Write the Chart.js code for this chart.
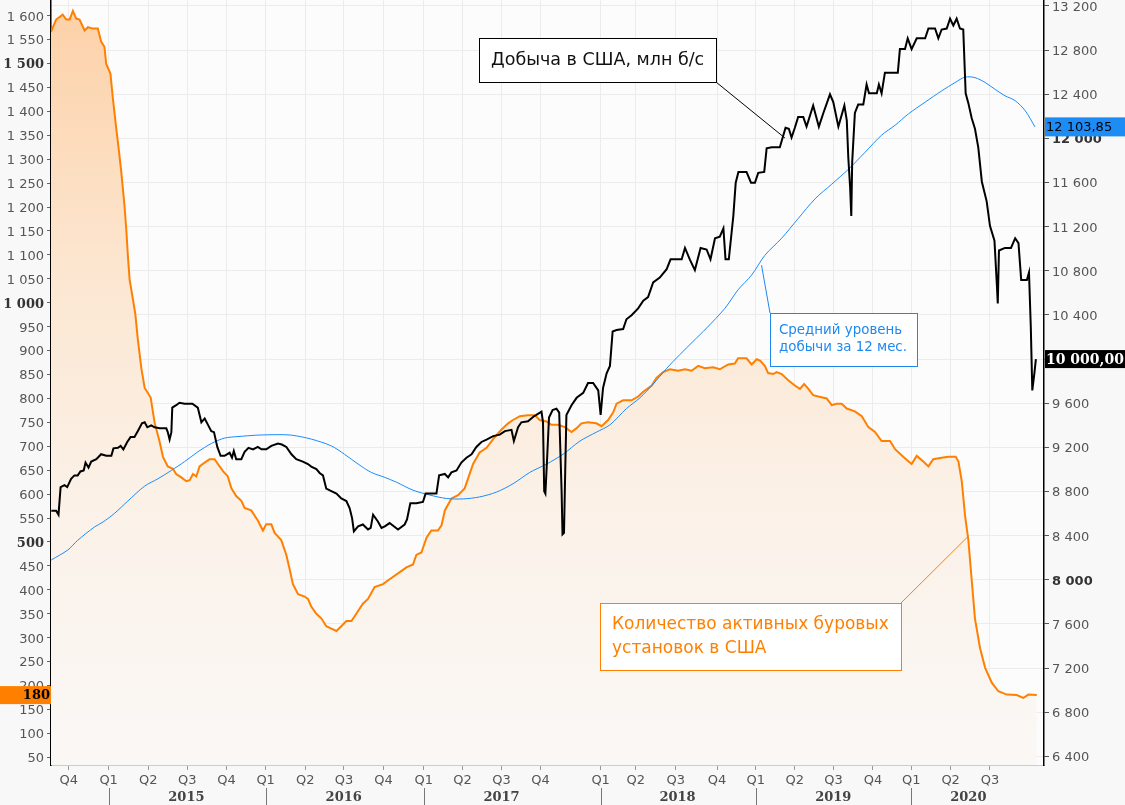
<!DOCTYPE html>
<html>
<head>
<meta charset="utf-8">
<script src="https://cdn.jsdelivr.net/npm/chart.js@4.4.0/dist/chart.umd.min.js"></script>
<style>
html,body{margin:0;padding:0;background:#f8f8f8;}
#wrap{width:1125px;height:805px;position:relative;}
</style>
</head>
<body>
<div id="wrap"><canvas id="c" width="1125" height="805"></canvas></div>
<script>
// ---- X axis (index in weeks from chart start) ----
const quarterWeek = [5.9, 19.2, 32.4, 45.4, 58.5, 71.5, 84.7, 97.6, 110.8, 124.2, 137.1, 150.1, 163.1, 183.1, 194.8, 208.1, 221.9, 234.8, 247.8, 260.7, 273.8, 286.6, 299.7, 312.8];
const quarterLabels = ['Q4','Q1','Q2','Q3','Q4','Q1','Q2','Q3','Q4','Q1','Q2','Q3','Q4','Q1','Q2','Q3','Q4','Q1','Q2','Q3','Q4','Q1','Q2','Q3'];
const yearStartWeek = [19.2, 71.5, 124.2, 183.1, 234.8, 286.6];
const yearLabelWeek = [45.1, 97.5, 150.1, 208.7, 260.6, 305.6];
const yearLabels = ['2015','2016','2017','2018','2019','2020'];

// ---- Y tick values ----
const leftTickValues = [50,100,150,200,250,300,350,400,450,500,550,600,650,700,750,800,850,900,950,1000,1050,1100,1150,1200,1250,1300,1350,1400,1450,1500,1550,1600];
const leftBold = [500,1000,1500];
const rightTickValues = [6400,6800,7200,7600,8000,8400,8800,9200,9600,10000,10400,10800,11200,11600,12000,12400,12800,13200];
const rightBold = [8000,12000];

// ---- Rig count (left axis) ----
const rigWeek = [0,1.7,3.9,5.1,6.2,7.3,8.4,9.5,11.2,12.3,13.9,15.6,16.7,17.8,18.4,19.8,20.6,21.7,22.5,23.4,24.5,25.1,25.6,26.2,27.3,28.1,28.9,30.1,31.2,33.2,34.5,36.2,37.3,38.9,40.6,41.7,43.4,45.1,46.2,47.3,48.4,49.5,51.2,52.8,54.5,55.6,57.3,58.9,60.1,61.7,63.4,64.5,66.7,68.9,70.6,71.7,73.4,74.5,76.7,78.4,79.5,80.6,82.3,84.5,85.6,86.7,88.4,90.1,91.7,93.4,95.1,96.7,98.4,100.1,101.7,103.9,105.6,107.8,110.6,112.8,116.2,118.4,120.6,121.7,123.4,125.1,126.7,128.9,130.1,131.2,133.4,135.6,137.8,138.9,140.6,142.8,145.1,147.8,150.1,152.3,153.9,156.2,158.9,161.2,162.8,165.1,166.7,168.9,171.2,173.4,175.1,176.7,178.9,181.7,183.4,185.6,187.3,188.4,190.6,193.4,195.6,197.3,200.1,201.7,203.9,206.2,208.9,211.2,213.4,215.6,217.8,220.6,222.8,225.6,227.8,228.9,231.7,233.4,235.1,236.2,237.8,238.9,240.6,241.7,243.4,245.6,247.8,249.5,250.9,252.3,253.9,255.6,258.4,260.1,261.7,263.4,265.1,267.8,270.1,272.3,274.5,276.7,279.5,281.2,283.9,286.7,288.4,290.6,292.3,293.9,296.7,298.9,301.4,302.3,303.4,304.5,305.6,306.7,307.8,309.5,311.2,313.4,315.6,318.4,321.7,323.9,325.6,328.4];
const rigCount = [1566,1592,1602,1592,1592,1610,1594,1592,1569,1576,1573,1573,1546,1535,1499,1479,1428,1366,1325,1274,1202,1151,1099,1048,1007,976,925,863,822,802,750,709,678,658,653,642,635,627,629,642,637,658,666,673,673,663,648,637,612,596,586,571,566,545,524,537,537,519,504,473,443,412,391,386,381,365,350,340,324,319,314,324,335,335,350,371,381,406,412,422,437,447,453,473,478,509,524,524,535,566,591,598,612,632,663,687,697,719,735,748,755,763,765,765,755,752,745,745,740,730,738,748,750,748,742,755,771,789,796,796,804,814,827,843,855,861,858,861,858,868,863,865,861,871,873,884,884,871,882,879,868,853,851,855,851,838,827,820,830,820,807,804,800,786,789,789,779,773,763,740,730,711,711,694,678,663,680,668,658,673,676,678,678,668,627,555,504,422,340,278,237,206,188,181,180,174,181,180];

// ---- US production, kb/d (right axis) ----
const prodWeek = [0.1,1.7,2.5,3.2,4.5,5.4,6.7,7.8,8.9,9.8,10.9,11.5,12.5,13.4,15.1,16.7,18.4,20.1,20.8,22.3,23.2,24.1,25.4,26.5,27.8,28.9,30.3,31.2,32.1,33.4,34.5,36.2,38.4,38.9,39.5,40.1,40.4,41.7,42.8,44.5,47.1,48.9,50.1,51.2,52.3,53.4,54.3,55.4,56.5,57.8,59.5,60.3,60.9,61.7,63.4,64.5,65.8,67.3,68.9,70.1,71.7,73.4,75.6,76.9,78.4,80.1,81.7,83.9,85.6,86.7,88.4,89.5,90.6,91.7,93.4,95.1,96.7,98.4,99.5,100.3,100.9,102.3,103.9,105.6,106.5,107.3,108.9,110.1,111.2,112.8,115.6,117.8,118.6,119.7,121.7,123.9,124.8,128.4,129.3,131.2,132.3,133.4,135.1,136.7,138.4,140.1,141.7,143.4,145.1,147.3,149.5,151.2,153.4,154.2,155.6,156.7,158.9,160.8,161.7,163.4,163.9,164.3,164.7,165.3,165.9,167.1,168.4,169.3,170.1,170.4,170.9,171.3,171.7,173.4,175.1,177.3,178.9,180.6,182.3,183.1,183.9,185.1,186.2,187.1,188.4,190.6,191.7,193.4,195.6,197.3,198.9,200.6,202.8,205.1,206.4,210.1,211.2,212.8,214.5,216.4,218.4,219.7,221.2,222.8,224,224.7,225.8,227.3,228.1,229,231.7,233.2,234.5,235.6,237.6,238.4,240.1,242.8,244.7,245.8,246.7,247.8,248.9,250.6,251.7,253.9,255.8,257.3,259.5,260.6,262.3,264.3,265.1,265.6,266.2,266.6,266.9,267.8,268.9,270.6,271.7,272.5,275.1,275.8,276.7,277.8,282.1,282.8,284.5,285.4,286.7,288.4,291.2,292.3,294.5,295.6,296.7,298.4,299.5,300.6,301.7,302.8,303.9,304.7,305.6,306.7,307.8,308.9,310.1,311.7,312.8,314.3,315.1,315.4,315.8,317.8,319.8,321.2,322.3,323.2,325.1,325.8,326.4,326.9,327.6,328.1];
const production = [8626,8626,8590,8840,8857,8840,8915,8946,8946,8982,8991,9062,9017,9071,9093,9138,9124,9124,9191,9196,9213,9182,9249,9293,9293,9347,9418,9427,9382,9400,9382,9373,9373,9338,9271,9338,9560,9582,9604,9596,9596,9560,9427,9462,9404,9347,9338,9204,9124,9124,9151,9106,9168,9093,9093,9159,9195,9182,9204,9182,9182,9213,9235,9226,9204,9137,9093,9071,9049,9026,9004,8968,8946,8826,8803,8781,8737,8714,8648,8559,8439,8484,8501,8456,8470,8590,8528,8470,8484,8514,8456,8501,8546,8693,8693,8705,8781,8781,8946,8959,8928,8973,8991,9062,9106,9138,9204,9249,9271,9302,9315,9347,9359,9257,9382,9427,9436,9480,9494,9524,9427,8803,8781,9115,9471,9538,9551,9515,8803,8412,8425,8982,9494,9582,9649,9694,9783,9783,9716,9494,9738,9871,9938,10250,10263,10272,10361,10397,10459,10530,10561,10695,10739,10815,10904,10904,11007,10904,10806,11007,10993,10904,11095,11109,11184,10904,10904,11296,11598,11696,11696,11598,11598,11687,11696,11910,11919,11919,12096,12087,12008,12096,12194,12194,12106,12297,12106,12230,12399,12328,12106,12297,12164,11829,11563,11296,11785,12230,12306,12306,12488,12408,12408,12488,12408,12595,12595,12809,12809,12906,12809,12906,12906,12995,12995,12906,12986,12995,13084,13022,13084,12995,12986,12408,12319,12185,12087,11919,11607,11429,11207,11073,10672,10504,10984,11007,11007,11095,11051,10717,10717,10784,10294,9716,9872,10000];

// ---- 12-month average production (right axis) ----
const avgWeek = [0.1,5.6,8.9,14.5,17.3,21.2,25.6,31.2,35.6,40.1,44.5,48.9,53.4,57.8,62.3,68.9,75.6,80.1,86.7,93.4,97.8,102.3,106.7,111.2,115.1,120.6,126.2,131.7,137.3,142.8,148.4,153.9,159.5,165.1,170.6,176.2,181.7,186.2,191.7,196.2,200.6,205.1,209.5,213.9,218.4,224.5,228.9,233.4,237.8,243.4,248.9,254.5,260.1,265.6,271.2,276.7,281.2,285.6,291.2,296.7,301.2,304.5,307.8,311.2,314.5,317.8,321.2,324.5,327.8];
const avg12m = [8180,8270,8358,8479,8523,8603,8714,8849,8915,8991,9071,9159,9235,9284,9298,9311,9315,9311,9275,9213,9137,9049,8973,8928,8884,8812,8768,8737,8733,8751,8795,8870,8973,9049,9138,9257,9338,9404,9551,9649,9773,9916,10041,10160,10281,10460,10628,10761,10940,11095,11273,11451,11585,11719,11874,12029,12119,12221,12328,12430,12506,12555,12550,12506,12444,12386,12341,12252,12103.85];

const toXY = (xs, ys) => xs.map((x, i) => ({x: x, y: ys[i]}));
const fmt = v => v >= 1000 ? Math.floor(v / 1000) + ' ' + String(Math.round(v % 1000)).padStart(3, '0') : String(v);

const SANS = '"DejaVu Sans", Verdana, sans-serif';
const SERIF = '"DejaVu Serif", Georgia, serif';

const bgPlugin = {
  id: 'bg',
  beforeDraw(chart) {
    const {ctx, chartArea: a} = chart;
    ctx.save();
    ctx.fillStyle = '#f8f8f8';
    ctx.fillRect(0, 0, chart.width, chart.height);
    ctx.fillStyle = '#fcfcfc';
    ctx.fillRect(a.left, a.top, a.right - a.left, a.bottom - a.top);
    ctx.restore();
  }
};

const annotations = [
  {box: [479, 38, 237, 44], color: '#000000', text: '#111111', font: '17.5px ' + SANS,
   lines: ['Добыча в США, млн б/с'], tx: 491, ty: [60], from: [716, 82], to: [244.5, 12003], axis: 'yR', lw: 1},
  {box: [770, 313, 147, 53], color: '#1e88f0', text: '#1e88f0', font: '13.4px ' + SANS,
   lines: ['Средний уровень', 'добычи за 12 мес.'], tx: 779, ty: [331, 348], from: [770, 313], to: [236.7, 10851], axis: 'yR', lw: 1},
  {box: [600, 603, 301, 67], color: '#ff8000', text: '#ff8000', font: '17px ' + SANS,
   lines: ['Количество активных буровых', 'установок в США'], tx: 612, ty: [625, 649], from: [901, 603], to: [305.1, 509], axis: 'yL', lw: 1}
];

const annoPlugin = {
  id: 'anno',
  afterDatasetsDraw(chart) {
    const ctx = chart.ctx, xs = chart.scales.x;
    ctx.save();
    annotations.forEach(a => {
      const ys = chart.scales[a.axis];
      ctx.strokeStyle = a.color; ctx.lineWidth = a.lw;
      ctx.beginPath();
      ctx.moveTo(a.from[0], a.from[1]);
      ctx.lineTo(xs.getPixelForValue(a.to[0]), ys.getPixelForValue(a.to[1]));
      ctx.stroke();
      const [bx, by, bw, bh] = a.box;
      ctx.fillStyle = '#ffffff';
      ctx.fillRect(bx, by, bw, bh);
      ctx.strokeRect(bx + 0.5, by + 0.5, bw, bh);
      ctx.fillStyle = a.text; ctx.font = a.font;
      ctx.textAlign = 'left'; ctx.textBaseline = 'middle';
      a.lines.forEach((t, i) => ctx.fillText(t, a.tx, a.ty[i]));
    });
    ctx.restore();
  },
  afterDraw(chart) {
    const ctx = chart.ctx, xs = chart.scales.x, a = chart.chartArea;
    ctx.save();
    // year separators and labels
    ctx.strokeStyle = '#777'; ctx.lineWidth = 1;
    yearStartWeek.forEach(w => {
      const px = Math.round(xs.getPixelForValue(w)) + 0.5;
      ctx.beginPath(); ctx.moveTo(px, a.bottom + 23); ctx.lineTo(px, chart.height); ctx.stroke();
    });
    ctx.font = 'bold 13px ' + SERIF; ctx.fillStyle = '#444';
    ctx.textAlign = 'center'; ctx.textBaseline = 'middle';
    yearLabelWeek.forEach((w, i) => ctx.fillText(yearLabels[i], xs.getPixelForValue(w), a.bottom + 33));
    // last value badges
    const yL = chart.scales.yL, yR = chart.scales.yR;
    const rigLast = rigCount[rigCount.length - 1];
    let y = yL.getPixelForValue(rigLast);
    ctx.fillStyle = '#ff7f00'; ctx.fillRect(0, y - 9, a.left, 18);
    ctx.fillStyle = '#000'; ctx.font = 'bold 13px ' + SERIF; ctx.textAlign = 'right';
    ctx.fillText(String(rigLast), a.left - 1, y + 1);
    const avgLast = avg12m[avg12m.length - 1];
    y = yR.getPixelForValue(avgLast);
    ctx.fillStyle = '#1e8cf5'; ctx.fillRect(a.right + 1, y - 9.5, chart.width - a.right - 1, 19);
    ctx.fillStyle = '#000'; ctx.font = '13px ' + SANS; ctx.textAlign = 'left';
    ctx.fillText(avgLast.toLocaleString('ru-RU', {minimumFractionDigits: 2}).replace(/\s/g, ' '), a.right + 2, y + 1);
    const prodLast = production[production.length - 1];
    y = yR.getPixelForValue(prodLast);
    ctx.fillStyle = '#000'; ctx.fillRect(a.right + 1, y - 9, chart.width - a.right - 1, 18);
    ctx.fillStyle = '#fff'; ctx.font = 'bold 14px ' + SERIF;
    ctx.fillText(prodLast.toLocaleString('ru-RU', {minimumFractionDigits: 2}).replace(/\s/g, ' '), a.right + 2, y + 1);
    ctx.restore();
  }
};

const rigGradient = (context) => {
  const {ctx, chartArea} = context.chart;
  if (!chartArea) return 'rgba(253,210,168,0.5)';
  const g = ctx.createLinearGradient(0, chartArea.top, 0, chartArea.bottom);
  g.addColorStop(0, 'rgb(253,208,166)');
  g.addColorStop(0.35, 'rgb(252,230,208)');
  g.addColorStop(0.65, 'rgb(251,241,231)');
  g.addColorStop(1, 'rgb(250,248,246)');
  return g;
};

new Chart(document.getElementById('c'), {
  type: 'line',
  data: {
    datasets: [
      {label: 'Добыча в США', data: toXY(prodWeek, production), yAxisID: 'yR',
       borderColor: '#000000', borderWidth: 2, pointRadius: 0, tension: 0, fill: false, order: 1},
      {label: 'Средний уровень добычи за 12 мес.', data: toXY(avgWeek, avg12m), yAxisID: 'yR',
       borderColor: '#1a8cff', borderWidth: 1, pointRadius: 0, tension: 0.3, fill: false, order: 2},
      {label: 'Количество активных буровых установок', data: toXY(rigWeek, rigCount), yAxisID: 'yL',
       borderColor: '#ff8000', borderWidth: 2, pointRadius: 0, tension: 0, fill: 'start',
       backgroundColor: rigGradient, order: 3}
    ]
  },
  options: {
    responsive: false,
    devicePixelRatio: 1,
    animation: false,
    layout: {padding: 0},
    plugins: {legend: {display: false}, tooltip: {enabled: false}},
    scales: {
      x: {
        type: 'linear', min: 0, max: 330.8,
        afterBuildTicks: s => { s.ticks = quarterWeek.map(v => ({value: v})); },
        afterFit: s => { s.height = 40; s.paddingLeft = 0; s.paddingRight = 0; },
        ticks: {autoSkip: false, maxRotation: 0, padding: 3, color: '#555',
                font: {family: SANS, size: 13},
                callback: (v, i) => quarterLabels[i]},
        grid: {color: '#ececec', tickColor: '#999', tickLength: 5, lineWidth: 1},
        border: {color: '#cccccc', width: 1}
      },
      yL: {
        type: 'linear', position: 'left', min: 33.9, max: 1632.8,
        afterBuildTicks: s => { s.ticks = leftTickValues.map(v => ({value: v})); },
        afterFit: s => { s.width = 51; s.paddingTop = 0; s.paddingBottom = 0; },
        ticks: {padding: 3, labelOffset: 1.5, callback: v => fmt(v),
                color: c => leftBold.includes(c.tick && c.tick.value) ? '#333' : '#555',
                font: c => leftBold.includes(c.tick && c.tick.value) ? {family: SERIF, size: 13, weight: 'bold'} : {family: SANS, size: 13}},
        grid: {drawOnChartArea: false, tickColor: '#666', tickLength: 4},
        border: {color: '#000', width: 1.5}
      },
      yR: {
        type: 'linear', position: 'right', min: 6322, max: 13253.5,
        afterBuildTicks: s => { s.ticks = rightTickValues.map(v => ({value: v})); },
        afterFit: s => { s.width = 81; s.paddingTop = 0; s.paddingBottom = 0; },
        ticks: {padding: 3, labelOffset: 1.5, callback: v => fmt(v),
                color: c => rightBold.includes(c.tick && c.tick.value) ? '#333' : '#555',
                font: c => rightBold.includes(c.tick && c.tick.value) ? {family: SANS, size: 13, weight: 'bold'} : {family: SANS, size: 13}},
        grid: {drawOnChartArea: true, color: '#ececec', tickColor: '#555', tickLength: 5},
        border: {color: '#000', width: 1.5}
      }
    }
  },
  plugins: [bgPlugin, annoPlugin]
});
</script>
</body>
</html>
